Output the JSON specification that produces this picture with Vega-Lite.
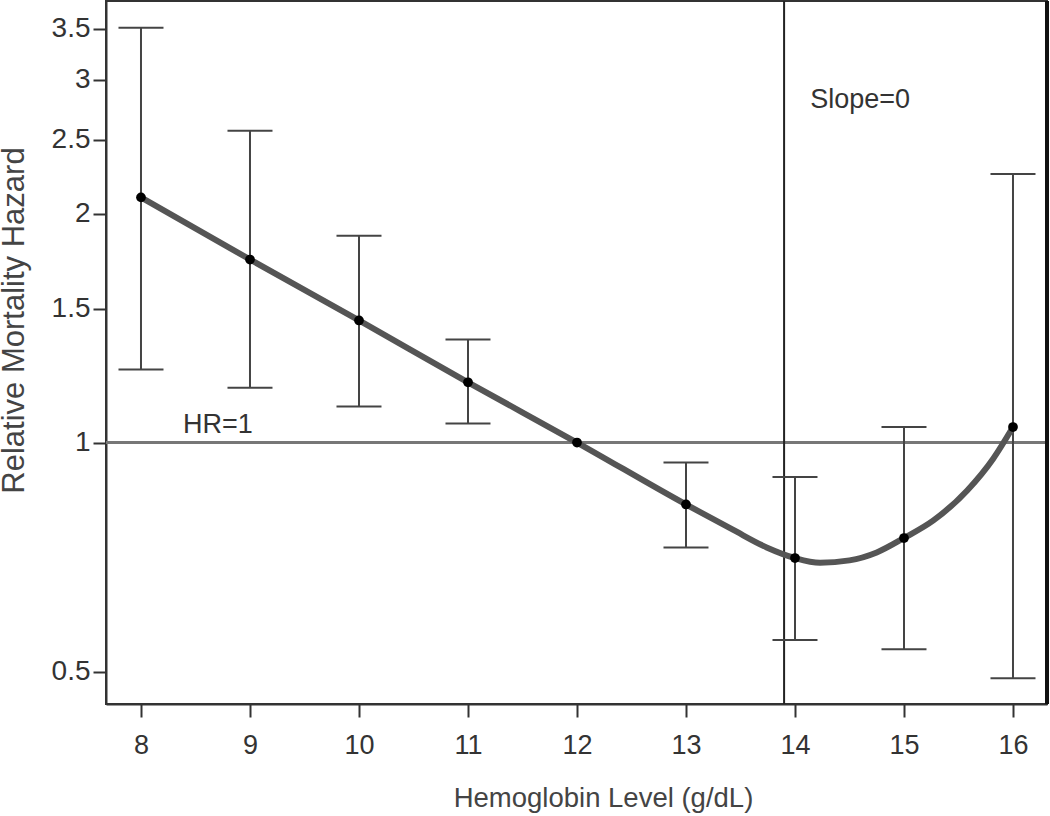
{
  "$schema": "https://vega.github.io/schema/vega-lite/v6.json",
  "autosize": {"type": "none"},
  "padding": {"left": 106, "top": 1, "right": 3, "bottom": 112},
  "width": 941,
  "height": 703,
  "background": "white",
  "config": {
    "font": "Liberation Sans",
    "view": {"stroke": "#333", "strokeWidth": 2},
    "axis": {
      "grid": false,
      "domainColor": "#333",
      "domainWidth": 2,
      "tickColor": "#333",
      "tickWidth": 2,
      "tickSize": 13,
      "labelColor": "#333",
      "labelFont": "Liberation Sans",
      "titleFont": "Liberation Sans",
      "titleColor": "#444",
      "titleFontWeight": "normal"
    }
  },
  "datasets": {
    "pts": [
      {"hb": 8, "hr": 2.10, "lo": 1.247, "hi": 3.51},
      {"hb": 9, "hr": 1.74, "lo": 1.18, "hi": 2.57},
      {"hb": 10, "hr": 1.447, "lo": 1.115, "hi": 1.87},
      {"hb": 11, "hr": 1.20, "lo": 1.059, "hi": 1.366},
      {"hb": 12, "hr": 1.0, "lo": null, "hi": null},
      {"hb": 13, "hr": 0.829, "lo": 0.728, "hi": 0.941},
      {"hb": 14, "hr": 0.705, "lo": 0.550, "hi": 0.901},
      {"hb": 15, "hr": 0.749, "lo": 0.535, "hi": 1.048},
      {"hb": 16, "hr": 1.048, "lo": 0.490, "hi": 2.254}
    ],
    "curve": [
      {"hb": 8, "hr": 2.10},
      {"hb": 9, "hr": 1.74},
      {"hb": 10, "hr": 1.447},
      {"hb": 11, "hr": 1.20},
      {"hb": 12, "hr": 1.0},
      {"hb": 13, "hr": 0.829},
      {"hb": 13.43, "hr": 0.768},
      {"hb": 13.74, "hr": 0.728},
      {"hb": 14, "hr": 0.705},
      {"hb": 14.23, "hr": 0.695},
      {"hb": 14.5, "hr": 0.700},
      {"hb": 14.75, "hr": 0.717},
      {"hb": 15, "hr": 0.749},
      {"hb": 15.27, "hr": 0.790},
      {"hb": 15.58, "hr": 0.865},
      {"hb": 15.82, "hr": 0.953},
      {"hb": 16, "hr": 1.048}
    ],
    "labels": [
      {"hb": 8.385, "hr": 1.028, "txt": "HR=1"},
      {"hb": 14.14, "hr": 2.756, "txt": "Slope=0"}
    ],
    "refs": [
      {"hline": 1, "vline": 13.9, "edge": 16.312}
    ]
  },
  "layer": [
    {
      "data": {"name": "refs"},
      "mark": {"type": "rule", "color": "#777", "strokeWidth": 3},
      "encoding": {
        "y": {"field": "hline", "type": "quantitative",
          "scale": {"type": "log", "domain": [0.4532, 3.805], "nice": false},
          "axis": {
            "values": [0.5, 1, 1.5, 2, 2.5, 3, 3.5],
            "labelFontSize": 28,
            "labelPadding": 3,
            "title": "Relative Mortality Hazard",
            "titleFontSize": 31,
            "titleAngle": -90,
            "titleBaseline": "alphabetic",
            "titleAlign": "center",
            "titleX": -83,
            "titleY": 319
          }
        }
      }
    },
    {
      "data": {"name": "refs"},
      "mark": {"type": "rule", "color": "#222", "strokeWidth": 2},
      "encoding": {
        "x": {"field": "vline", "type": "quantitative",
          "scale": {"domain": [7.679, 16.312], "nice": false, "zero": false},
          "axis": {
            "values": [8, 9, 10, 11, 12, 13, 14, 15, 16],
            "format": "d",
            "labelFontSize": 27,
            "labelPadding": 15,
            "title": "Hemoglobin Level (g/dL)",
            "titleFontSize": 27.5,
            "titleBaseline": "alphabetic",
            "titleAlign": "center",
            "titleX": 497,
            "titleY": 102
          }
        }
      }
    },
    {
      "data": {"name": "refs"},
      "mark": {"type": "rule", "color": "#111", "strokeWidth": 4},
      "encoding": {"x": {"field": "edge", "type": "quantitative"}}
    },
    {
      "data": {"name": "pts"},
      "transform": [{"filter": "datum.lo != null"}],
      "mark": {"type": "rule", "color": "#444", "strokeWidth": 2},
      "encoding": {
        "x": {"field": "hb", "type": "quantitative"},
        "y": {"field": "lo", "type": "quantitative"},
        "y2": {"field": "hi"}
      }
    },
    {
      "data": {"name": "pts"},
      "transform": [{"filter": "datum.lo != null"}],
      "mark": {"type": "tick", "orient": "horizontal", "color": "#444", "size": 45, "thickness": 2, "opacity": 1},
      "encoding": {
        "x": {"field": "hb", "type": "quantitative"},
        "y": {"field": "lo", "type": "quantitative"}
      }
    },
    {
      "data": {"name": "pts"},
      "transform": [{"filter": "datum.lo != null"}],
      "mark": {"type": "tick", "orient": "horizontal", "color": "#444", "size": 45, "thickness": 2, "opacity": 1},
      "encoding": {
        "x": {"field": "hb", "type": "quantitative"},
        "y": {"field": "hi", "type": "quantitative"}
      }
    },
    {
      "data": {"name": "curve"},
      "mark": {"type": "line", "color": "#555", "strokeWidth": 6, "interpolate": "monotone"},
      "encoding": {
        "x": {"field": "hb", "type": "quantitative"},
        "y": {"field": "hr", "type": "quantitative"}
      }
    },
    {
      "data": {"name": "pts"},
      "mark": {"type": "circle", "color": "black", "size": 95, "opacity": 1},
      "encoding": {
        "x": {"field": "hb", "type": "quantitative"},
        "y": {"field": "hr", "type": "quantitative"}
      }
    },
    {
      "data": {"name": "labels"},
      "mark": {"type": "text", "align": "left", "baseline": "alphabetic", "fontSize": 27, "color": "#333", "font": "Liberation Sans"},
      "encoding": {
        "x": {"field": "hb", "type": "quantitative"},
        "y": {"field": "hr", "type": "quantitative"},
        "text": {"field": "txt"}
      }
    }
  ]
}
